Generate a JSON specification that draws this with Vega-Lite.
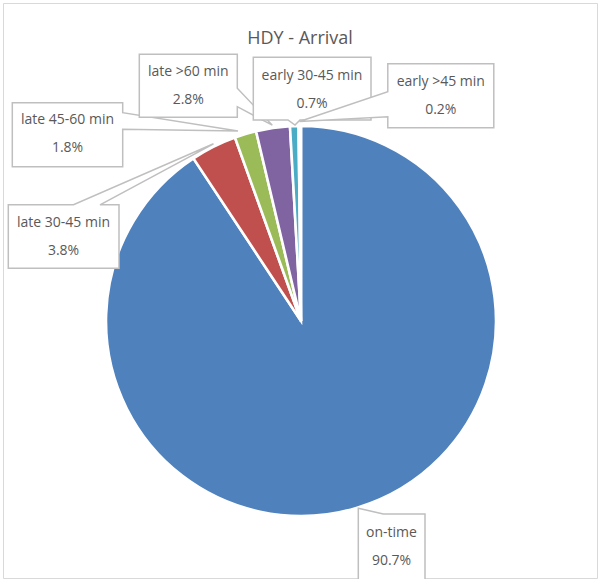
{
  "$schema": "https://vega.github.io/schema/vega-lite/v6.json",
  "width": 594,
  "height": 575,
  "autosize": {"type": "none"},
  "padding": {"left": 3, "top": 3, "right": 2, "bottom": 1},
  "background": "white",
  "title": {
    "text": "HDY - Arrival",
    "anchor": "middle",
    "offset": -45,
    "fontSize": 18,
    "fontWeight": "normal",
    "font": "Open Sans",
    "color": "#595959"
  },
  "config": {
    "view": {"stroke": "#D9D9D9", "strokeWidth": 1},
    "text": {"font": "Open Sans"}
  },
  "data": {
    "values": [
      {"category": "on-time", "pct": 0.907, "order": 1},
      {"category": "late 30-45 min", "pct": 0.038, "order": 2},
      {"category": "late 45-60 min", "pct": 0.018, "order": 3},
      {"category": "late >60 min", "pct": 0.028, "order": 4},
      {"category": "early 30-45 min", "pct": 0.007, "order": 5},
      {"category": "early >45 min", "pct": 0.002, "order": 6}
    ]
  },
  "layer": [
    {
      "mark": {"type": "arc", "outerRadius": 195, "stroke": "white", "strokeWidth": 2.6},
      "encoding": {
        "theta": {"field": "pct", "type": "quantitative", "stack": true},
        "order": {"field": "order", "type": "quantitative"},
        "color": {
          "field": "category",
          "type": "nominal",
          "scale": {
            "domain": ["on-time", "late 30-45 min", "late 45-60 min", "late >60 min", "early 30-45 min", "early >45 min"],
            "range": ["#4F81BD", "#C0504D", "#9BBB59", "#8064A2", "#4BACC6", "#F79646"]
          },
          "legend": null
        },
        "x": {"value": 298},
        "y": {"value": 318}
      }
    },
    {
      "mark": {"type": "point", "filled": true, "fill": "white", "stroke": "#BFBFBF", "strokeWidth": 1.5, "size": 4, "opacity": 1},
      "encoding": {
        "x": {"field": "pct", "type": "quantitative", "axis": null,
          "scale": {"domain": [0.002, 0.007, 0.018, 0.028, 0.038, 0.907], "range": [437.8, 309, 64.5, 185.3, 60.5, 388.5], "zero": false, "nice": false}},
        "y": {"field": "pct", "type": "quantitative", "axis": null,
          "scale": {"domain": [0.002, 0.007, 0.018, 0.028, 0.038, 0.907], "range": [92.8, 86.7, 131.2, 83.2, 233.8, 544.2], "zero": false, "nice": false}},
        "shape": {
          "field": "category",
          "type": "nominal",
          "scale": {
            "domain": ["on-time", "late 30-45 min", "late 45-60 min", "late >60 min", "early 30-45 min", "early >45 min"],
            "range": [
              "M-33.2,-39L-8.2,-33.2H33.5V43H-33.2Z",
              "M-55.2,-32H10L150,-93L36.5,-32H55.5V31.5H-55.2Z",
              "M-55.2,-31.5H55.2V-21.5L170.5,-3.2L55.2,-4.9V32.5H-55.2Z",
              "M-49,-32H49V2L84,39L49,20.5V31H-49Z",
              "M-58.7,-32.4H59V30.3H-12L-17,35.3L-24,30.3H-58.7Z",
              "M-53,-32H53V32H-53V21L-141.3,25.7L-53,-4Z"
            ]
          },
          "legend": null
        }
      }
    },
    {
      "mark": {"type": "text", "dy": -14, "fontSize": 14, "color": "#595959", "align": "center", "baseline": "middle"},
      "encoding": {
        "x": {"field": "pct", "type": "quantitative", "axis": null,
          "scale": {"domain": [0.002, 0.007, 0.018, 0.028, 0.038, 0.907], "range": [437.8, 309, 64.5, 185.3, 60.5, 388.5], "zero": false, "nice": false}},
        "y": {"field": "pct", "type": "quantitative", "axis": null,
          "scale": {"domain": [0.002, 0.007, 0.018, 0.028, 0.038, 0.907], "range": [92.8, 86.7, 131.2, 83.2, 233.8, 544.2], "zero": false, "nice": false}},
        "text": {"field": "category", "type": "nominal"}
      }
    },
    {
      "mark": {"type": "text", "dy": 14, "fontSize": 14, "color": "#595959", "align": "center", "baseline": "middle"},
      "encoding": {
        "x": {"field": "pct", "type": "quantitative", "axis": null,
          "scale": {"domain": [0.002, 0.007, 0.018, 0.028, 0.038, 0.907], "range": [437.8, 309, 64.5, 185.3, 60.5, 388.5], "zero": false, "nice": false}},
        "y": {"field": "pct", "type": "quantitative", "axis": null,
          "scale": {"domain": [0.002, 0.007, 0.018, 0.028, 0.038, 0.907], "range": [92.8, 86.7, 131.2, 83.2, 233.8, 544.2], "zero": false, "nice": false}},
        "text": {"field": "pct", "type": "quantitative", "format": ".1%"}
      }
    }
  ]
}
